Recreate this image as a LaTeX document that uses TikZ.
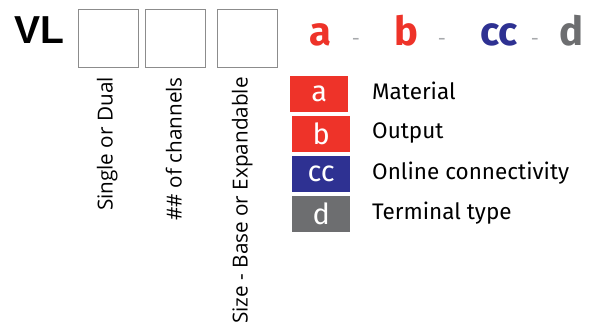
\documentclass[tikz,border=0pt]{standalone}
\usepackage{fontspec}
\setmainfont{Fira Sans}
\newfontfamily\rotfont{Open Sans}
\newfontfamily\vlfont{Liberation Sans}
\definecolor{cred}{HTML}{EE3329}
\definecolor{cblue}{HTML}{2E3192}
\definecolor{cgray}{HTML}{6D6E70}
\definecolor{dashgray}{HTML}{A7A9AC}
\begin{document}
\begin{tikzpicture}[x=1pt,y=-1pt,
  slot/.style={draw=black!45,line width=0.8pt,minimum width=60pt,minimum height=58pt,inner sep=0pt,anchor=north west},
  big/.style={font=\fontsize{40}{40}\selectfont\bfseries,inner sep=0pt,anchor=base},
  sep/.style={font=\fontsize{20}{20}\selectfont,text=dashgray,inner sep=0pt,anchor=base},
  key/.style={minimum width=58pt,minimum height=36pt,inner sep=0pt,anchor=north west,text=white,font=\fontsize{29}{29}\selectfont},
  desc/.style={font=\fontsize{22.5}{22.5}\selectfont,inner sep=0pt,anchor=base west},
  vert/.style={rotate=90,anchor=base east,inner sep=0pt,font=\rotfont\fontsize{20.7}{20.7}\selectfont}]
\useasboundingbox (0,0) rectangle (591,326);
\node[inner sep=0pt,anchor=base west,font=\vlfont\fontsize{39}{39}\selectfont\bfseries] (vl) at (14,44) {VL};
\node[slot] (s1) at (78,9) {};
\node[slot] (s2) at (144.5,9) {};
\node[slot] (s3) at (216.5,9) {};
\node[big,text=cred] (la) at (320,46) {a};
\node[sep] (d1) at (356,46) {-};
\node[big,text=cred] (lb) at (406,46) {b};
\node[sep] (d2) at (442,46) {-};
\node[big,text=cblue] (lc) at (499,46) {cc};
\node[sep] (d3) at (535,46) {-};
\node[big,text=cgray] (ld) at (571.5,46) {d};
\node[key,fill=cred] (ka) at (290,76) {a};
\node[key,fill=cred] (kb) at (292,116) {b};
\node[key,fill=cblue] (kc) at (292,156) {cc};
\node[key,fill=cgray] (kd) at (292,196) {d};
\node[desc] (ta) at (372,100) {Material};
\node[desc] (tb) at (372,139) {Output};
\node[desc] (tc) at (372,179) {Online connectivity};
\node[desc] (td) at (372,219) {Terminal type};
\node[vert] (v1) at (112.5,77) {Single or Dual};
\node[vert] (v2) at (181.5,77) {\#\# of channels};
\node[vert] (v3) at (247.5,77) {Size - Base or Expandable};
\end{tikzpicture}
\end{document}
